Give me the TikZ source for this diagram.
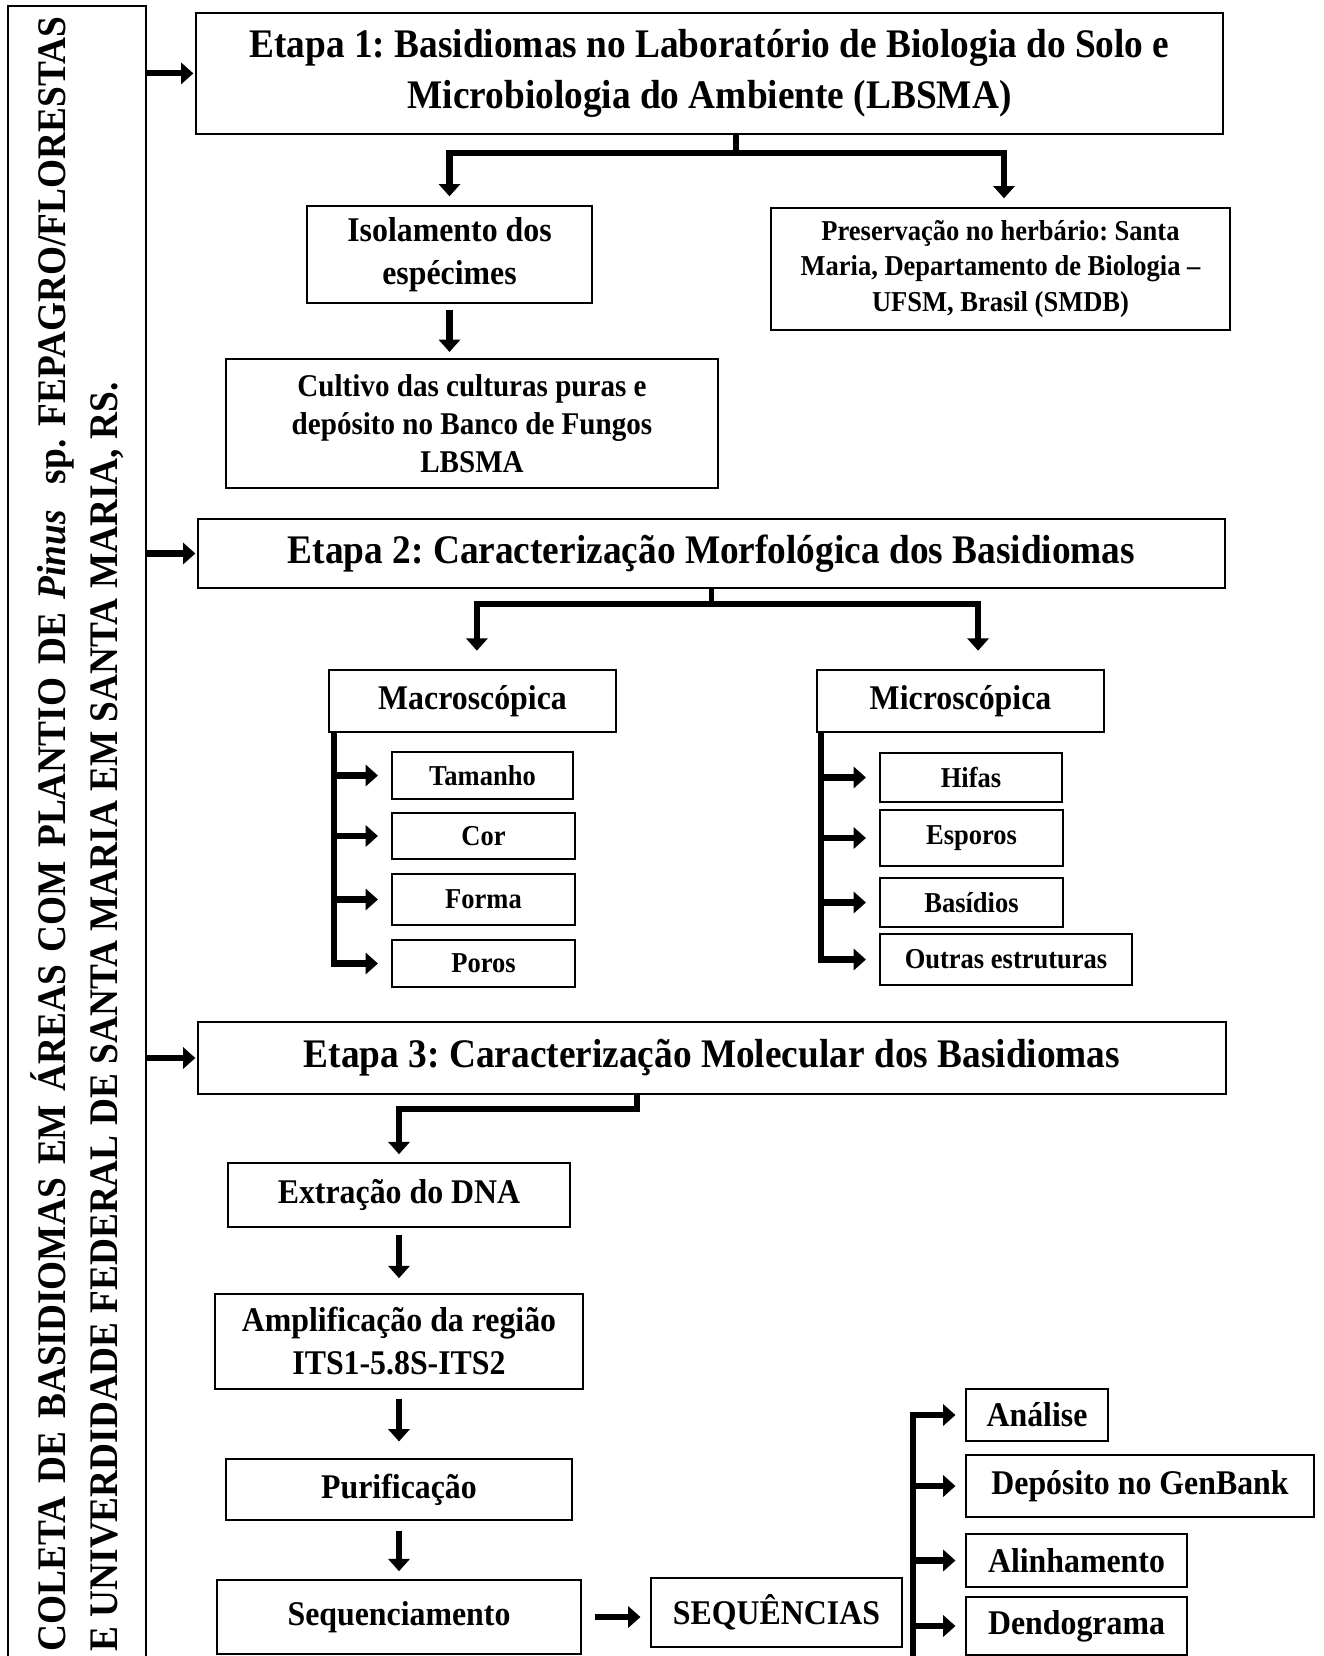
\documentclass[tikz,border=0pt]{standalone}
\usepackage{fontspec}
\setmainfont{Liberation Serif}[FakeStretch=0.92]
\frenchspacing
\usetikzlibrary{arrows.meta, calc, positioning}

\begin{document}
\begin{tikzpicture}[% styles used in image code
         x = 0.02cm, y = -0.02cm, % one unit = one pixel, y downwards
         > = {Triangle[length=7pt, width=12pt]},
box/.style = {draw, line width=1pt, inner sep=2pt, outer sep=0pt,
              align=center},
boxw/.style = {minimum width=#1*0.02cm},
boxh/.style = {minimum height=#1*0.02cm},
big/.style = {font=\bfseries\fontsize{23.1}{28.7}\selectfont},
mid/.style = {font=\bfseries\fontsize{19.7}{24.5}\selectfont},
cul/.style = {font=\bfseries\fontsize{18}{21.8}\selectfont},
small/.style = {font=\bfseries\fontsize{16.4}{20}\selectfont},
flow/.style = {line width=3.5pt},
stem/.style = {line width=3pt}
                    ]
	\useasboundingbox (0,0) rectangle (1324,1656);
	\clip (0,0) rectangle (1324,1656);

	% left column
	\node[box, boxw=138, boxh=1664] (coleta) at (77,838) {};
	\node[big, rotate=90, anchor=base west, inner sep=0pt] (linha1) at (65,1652)
		{\makebox[32.7cm][s]{COLETA DE BASIDIOMAS EM ÁREAS COM PLANTIO DE \textit{Pinus}\ \ sp. FEPAGRO/FLORESTAS}};
	\node[big, rotate=90, anchor=base west, inner sep=0pt] (linha2) at (117,1652)
		{E UNIVERDIDADE FEDERAL DE SANTA MARIA EM SANTA MARIA, RS.};

	% etapa 1
	\node[box, big, boxw=1027, boxh=121] (e1) at (709.5,73.4)
		{Etapa 1: Basidiomas no Laboratório de Biologia do Solo e\\Microbiologia do Ambiente (LBSMA)};
	\node[box, mid, boxw=285, boxh=97] (isol) at (449.5,254.5) {Isolamento dos\\espécimes};
	\node[box, small, boxw=459, boxh=122] (pres) at (1000.5,269)
		{Preservação no herbário: Santa\\Maria, Departamento de Biologia –\\UFSM, Brasil (SMDB)};
	\node[box, cul, boxw=492, boxh=129] (cult) at (472,423.5)
		{Cultivo das culturas puras e\\depósito no Banco de Fungos\\LBSMA};

	% etapa 2
	\node[box, big, boxw=1027, boxh=69] (e2) at (711.5,553.5)
		{Etapa 2: Caracterização Morfológica dos Basidiomas};
	\node[box, mid, boxw=287, boxh=62] (macro) at (472.5,701) {Macroscópica};
	\node[box, mid, boxw=287, boxh=62] (micro) at (960.5,701) {Microscópica};
	\node[box, small, boxw=181, boxh=47] (tam) at (482.5,775.5) {Tamanho};
	\node[box, small, boxw=183, boxh=46] (cor) at (483.5,836) {Cor};
	\node[box, small, boxw=183, boxh=51] (forma) at (483.5,899.5) {Forma};
	\node[box, small, boxw=183, boxh=47] (poros) at (483.5,963.5) {Poros};
	\node[box, small, boxw=182, boxh=49] (hifas) at (971,777.5) {Hifas};
	\node[box, small, boxw=183, boxh=56] (espor) at (971.5,838) {Esporos};
	\node[box, small, boxw=183, boxh=49] (basid) at (971.5,902.5) {Basídios};
	\node[box, small, boxw=252, boxh=51] (outras) at (1006,959.5) {Outras estruturas};

	% etapa 3
	\node[box, big, boxw=1028, boxh=72] (e3) at (712,1058)
		{Etapa 3: Caracterização Molecular dos Basidiomas};
	\node[box, mid, boxw=342, boxh=64] (extr) at (399,1195) {Extração do DNA};
	\node[box, mid, boxw=368, boxh=95] (ampl) at (399,1341.5) {Amplificação da região\\ITS1-5.8S-ITS2};
	\node[box, mid, boxw=346, boxh=61] (purif) at (399,1489.5) {Purificação};
	\node[box, mid, boxw=364, boxh=74] (seqm) at (399,1617) {Sequenciamento};
	\node[box, mid, boxw=251, boxh=69] (seq) at (776.5,1612.5) {SEQUÊNCIAS};
	\node[box, mid, boxw=142, boxh=52] (anal) at (1037,1415) {Análise};
	\node[box, mid, boxw=348, boxh=62] (dep) at (1140,1486) {Depósito no GenBank};
	\node[box, mid, boxw=221, boxh=53] (alin) at (1076.5,1560.5) {Alinhamento};
	\node[box, mid, boxw=221, boxh=58] (dend) at (1076.5,1626) {Dendograma};

	% arrows from the left column
	\foreach \e in {e1,e2,e3}
		\draw[flow,->,shorten >=1.5pt] (coleta.east |- \e.west) -- (\e.west);

	% etapa 1 connectors
	\coordinate (j1) at (736,153);
	\draw[stem] (j1 |- e1.south) -- (j1);
	\draw[flow,->,shorten >=5.5pt] (j1) -| (isol.north);
	\draw[flow,->,shorten >=5.5pt] (j1) -| ([xshift=2pt]pres.north);
	\draw[flow,->,shorten <=4pt,shorten >=4pt] (isol.south) -- (isol.south |- cult.north);

	% etapa 2 connectors
	\coordinate (j2) at (711.5,604);
	\draw[stem] (e2.south) -- (j2);
	\draw[flow,->,shorten >=11pt] (j2) -| ([xshift=2.5pt]macro.north);
	\draw[flow,->,shorten >=11pt] (j2) -| ([xshift=10pt]micro.north);
	\coordinate (ma) at ([xshift=3pt]macro.south west);
	\draw[flow,->,shorten >=8pt] (ma) |- (poros.west);
	\foreach \f in {tam,cor,forma}
		\draw[flow,->,shorten >=8pt] (ma |- \f.west) -- (\f.west);
	\coordinate (mi) at ([xshift=2.3pt]micro.south west);
	\draw[flow,->,shorten >=8pt] (mi) |- (outras.west);
	\foreach \f in {hifas,espor,basid}
		\draw[flow,->,shorten >=8pt] (mi |- \f.west) -- (\f.west);

	% etapa 3 connectors
	\coordinate (j3) at (637,1109);
	\draw[flow,->,shorten >=5pt] (e3.south -| j3) -- (j3) -| (extr.north);
	\draw[flow,->,shorten <=4.5pt,shorten >=9pt] (extr) -- (ampl);
	\draw[flow,->,shorten <=5.5pt,shorten >=10pt] (ampl) -- (purif);
	\draw[flow,->,shorten <=6pt,shorten >=5pt] (purif) -- (seqm);
	\draw[flow,->,shorten <=8pt,shorten >=6pt] (seqm.east) -- (seqm.east -| seq.west);
	\coordinate (sq) at (913,1660);
	\draw[flow,->,shorten >=6pt] (sq) |- (anal.west);
	\foreach \f in {dep,alin,dend}
		\draw[flow,->,shorten >=6pt] (sq |- \f.west) -- (\f.west);
\end{tikzpicture}
\end{document}
